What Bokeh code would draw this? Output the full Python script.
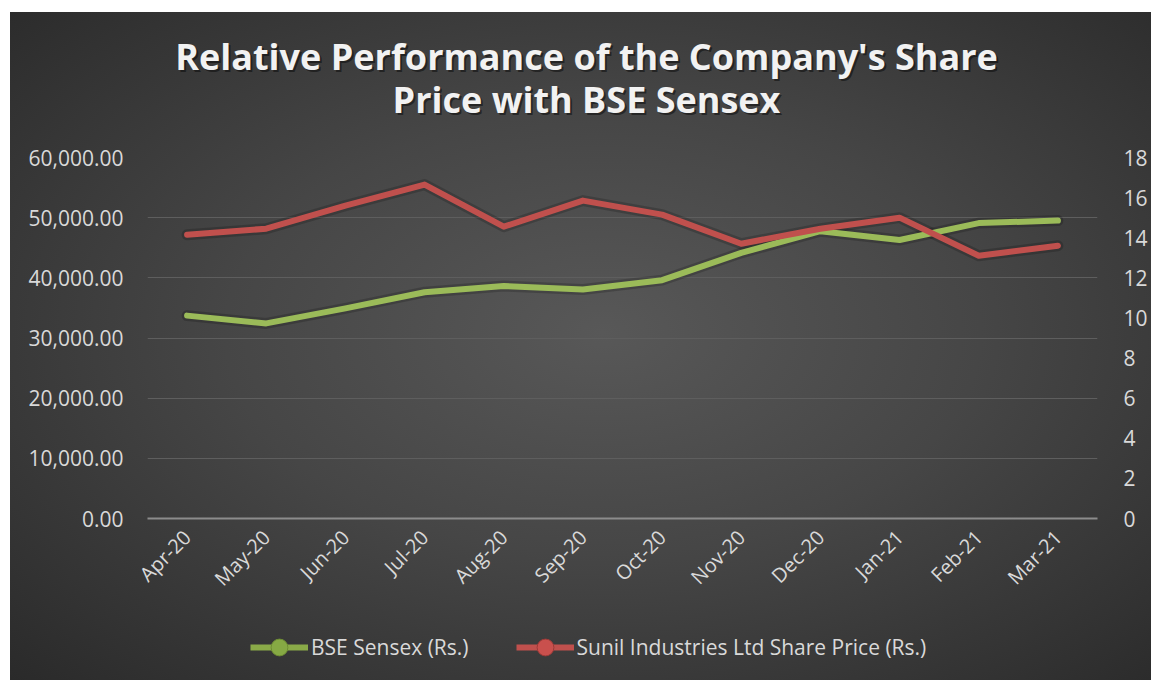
import math
from bokeh.plotting import figure
from bokeh.layouts import column
from bokeh.models import (FactorRange, Range1d, LinearAxis, FixedTicker, NumeralTickFormatter,
                          Legend, LegendItem, ColumnDataSource, Label, InlineStyleSheet)
from bokeh.embed import file_html
from bokeh.resources import INLINE

months = ["Apr-20", "May-20", "Jun-20", "Jul-20", "Aug-20", "Sep-20",
          "Oct-20", "Nov-20", "Dec-20", "Jan-21", "Feb-21", "Mar-21"]
bse_sensex = [33717, 32424, 34916, 37607, 38628, 38068,
              39614, 44150, 47751, 46286, 49100, 49509]
sunil_price = [14.15, 14.45, 15.6, 16.65, 14.55, 15.85,
               15.15, 13.7, 14.45, 15.0, 13.1, 13.6]
left_ticks = [0, 10000, 20000, 30000, 40000, 50000, 60000]
right_ticks = [0, 2, 4, 6, 8, 10, 12, 14, 16, 18]
title_lines = ["Relative Performance of the Company's Share", "Price with BSE Sensex"]
series_names = ["BSE Sensex (Rs.)", "Sunil Industries Ltd Share Price (Rs.)"]

GREEN = "#9BBB59"
RED = "#C0504D"
LABEL = "#d9d9d9"
FONT = "Open Sans"
W = 1151
FL, FR = 147, 1097   # frame left/right (shared by the column's aligned frames)

css = InlineStyleSheet(css="""
:host {
  background-color: #ffffff;
  background-image: radial-gradient(ellipse farthest-corner at 52% 48%, #585858 0%, #464646 45%, #2a2a2a 100%);
  background-position: 10px 12px;
  background-size: calc(100% - 10px) calc(100% - 12px);
  background-repeat: no-repeat;
}
""")

def bare(height):
    f = figure(width=W, height=height, x_range=Range1d(FL, FR), y_range=Range1d(0, height),
               output_backend="svg", toolbar_location=None,
               x_axis_location=None, y_axis_location=None,
               min_border=0, background_fill_color=None, border_fill_color=None,
               outline_line_color=None)
    f.grid.visible = False
    return f

# ---------- title strip ----------
TH = 140
tf = bare(TH)
for t, base in zip(title_lines, [70, 113]):
    yy = TH - base + 14
    tf.add_layout(Label(x=586 + 2, y=yy - 2, text=t, text_align="center",
                        text_baseline="alphabetic", text_font=FONT, text_font_style="bold",
                        text_font_size="36px", text_color="black", text_alpha=0.45))
    tf.add_layout(Label(x=586, y=yy, text=t, text_align="center",
                        text_baseline="alphabetic", text_font=FONT, text_font_style="bold",
                        text_font_size="36px", text_color="#f2f2f2"))

# ---------- main chart ----------
MH = 475
p = figure(width=W, height=MH, x_range=FactorRange(*months), y_range=Range1d(0, 60000),
           output_backend="svg", toolbar_location=None,
           min_border_left=FL, min_border_right=W - FR, min_border_top=157 - TH,
           min_border_bottom=MH - (518 - TH),
           background_fill_color=None, border_fill_color=None, outline_line_color=None)
p.x_range.range_padding = 0
p.extra_y_ranges = {"right": Range1d(0, 18)}

p.xaxis.major_label_orientation = math.pi / 4
p.xaxis.major_label_text_font = FONT
p.xaxis.major_label_text_font_size = "20px"
p.xaxis.major_label_text_color = LABEL
p.xaxis.major_tick_line_color = None
p.xaxis.minor_tick_line_color = None
p.xaxis.axis_line_color = "#8c8c8c"
p.xaxis.axis_line_width = 2
p.xaxis.major_label_standoff = 9

p.yaxis.ticker = FixedTicker(ticks=left_ticks)
p.yaxis.formatter = NumeralTickFormatter(format="0,0.00")
p.yaxis.major_label_text_font = FONT
p.yaxis.major_label_text_font_size = "21px"
p.yaxis.major_label_text_color = LABEL
p.yaxis.axis_line_color = None
p.yaxis.major_tick_line_color = None
p.yaxis.minor_tick_line_color = None
p.yaxis.major_label_standoff = 18

raxis = LinearAxis(y_range_name="right", ticker=FixedTicker(ticks=right_ticks))
raxis.major_label_text_font = FONT
raxis.major_label_text_font_size = "21px"
raxis.major_label_text_color = LABEL
raxis.axis_line_color = None
raxis.major_tick_line_color = None
raxis.minor_tick_line_color = None
raxis.major_label_standoff = 20
p.add_layout(raxis, "right")

p.xgrid.grid_line_color = None
p.ygrid.ticker = FixedTicker(ticks=left_ticks)
p.ygrid.grid_line_color = "#5e5e5e"
p.ygrid.grid_line_width = 1

src = ColumnDataSource(dict(month=months, bse=bse_sensex, sunil=sunil_price))

p.line("month", "bse", source=src, line_color="black", line_alpha=0.18, line_width=11,
       line_cap="round", line_join="round")
p.line("month", "sunil", source=src, y_range_name="right", line_color="black", line_alpha=0.18,
       line_width=11, line_cap="round", line_join="round")
p.line("month", "bse", source=src, line_color=GREEN, line_width=6,
       line_cap="round", line_join="round")
p.line("month", "sunil", source=src, y_range_name="right", line_color=RED, line_width=6,
       line_cap="round", line_join="round")

# ---------- legend strip ----------
LH = 680 - TH - MH
lf = bare(LH)
nan = float("nan")
dummy = ColumnDataSource(dict(x=[nan], y=[nan]))
gl = lf.line("x", "y", source=dummy, line_color="#8AAA48", line_width=6)
gd = lf.scatter("x", "y", source=dummy, size=17, fill_color="#86A944", line_color="#6d8c33")
rl = lf.line("x", "y", source=dummy, line_color=RED, line_width=6)
rd = lf.scatter("x", "y", source=dummy, size=17, fill_color="#C9504D", line_color="#9c3a38")
legend = Legend(items=[LegendItem(label=series_names[0], renderers=[gl, gd]),
                       LegendItem(label=series_names[1], renderers=[rl, rd])],
                orientation="horizontal", location=(250 - FL, 12),
                background_fill_alpha=0, border_line_color=None,
                label_text_font=FONT, label_text_font_size="21px", label_text_color=LABEL,
                glyph_width=58, glyph_height=42, label_standoff=3, spacing=47, padding=0, margin=0)
lf.add_layout(legend, "center")

layout = column(tf, p, lf, spacing=0, stylesheets=[css])
open("out.html", "w").write(file_html(layout, INLINE))
